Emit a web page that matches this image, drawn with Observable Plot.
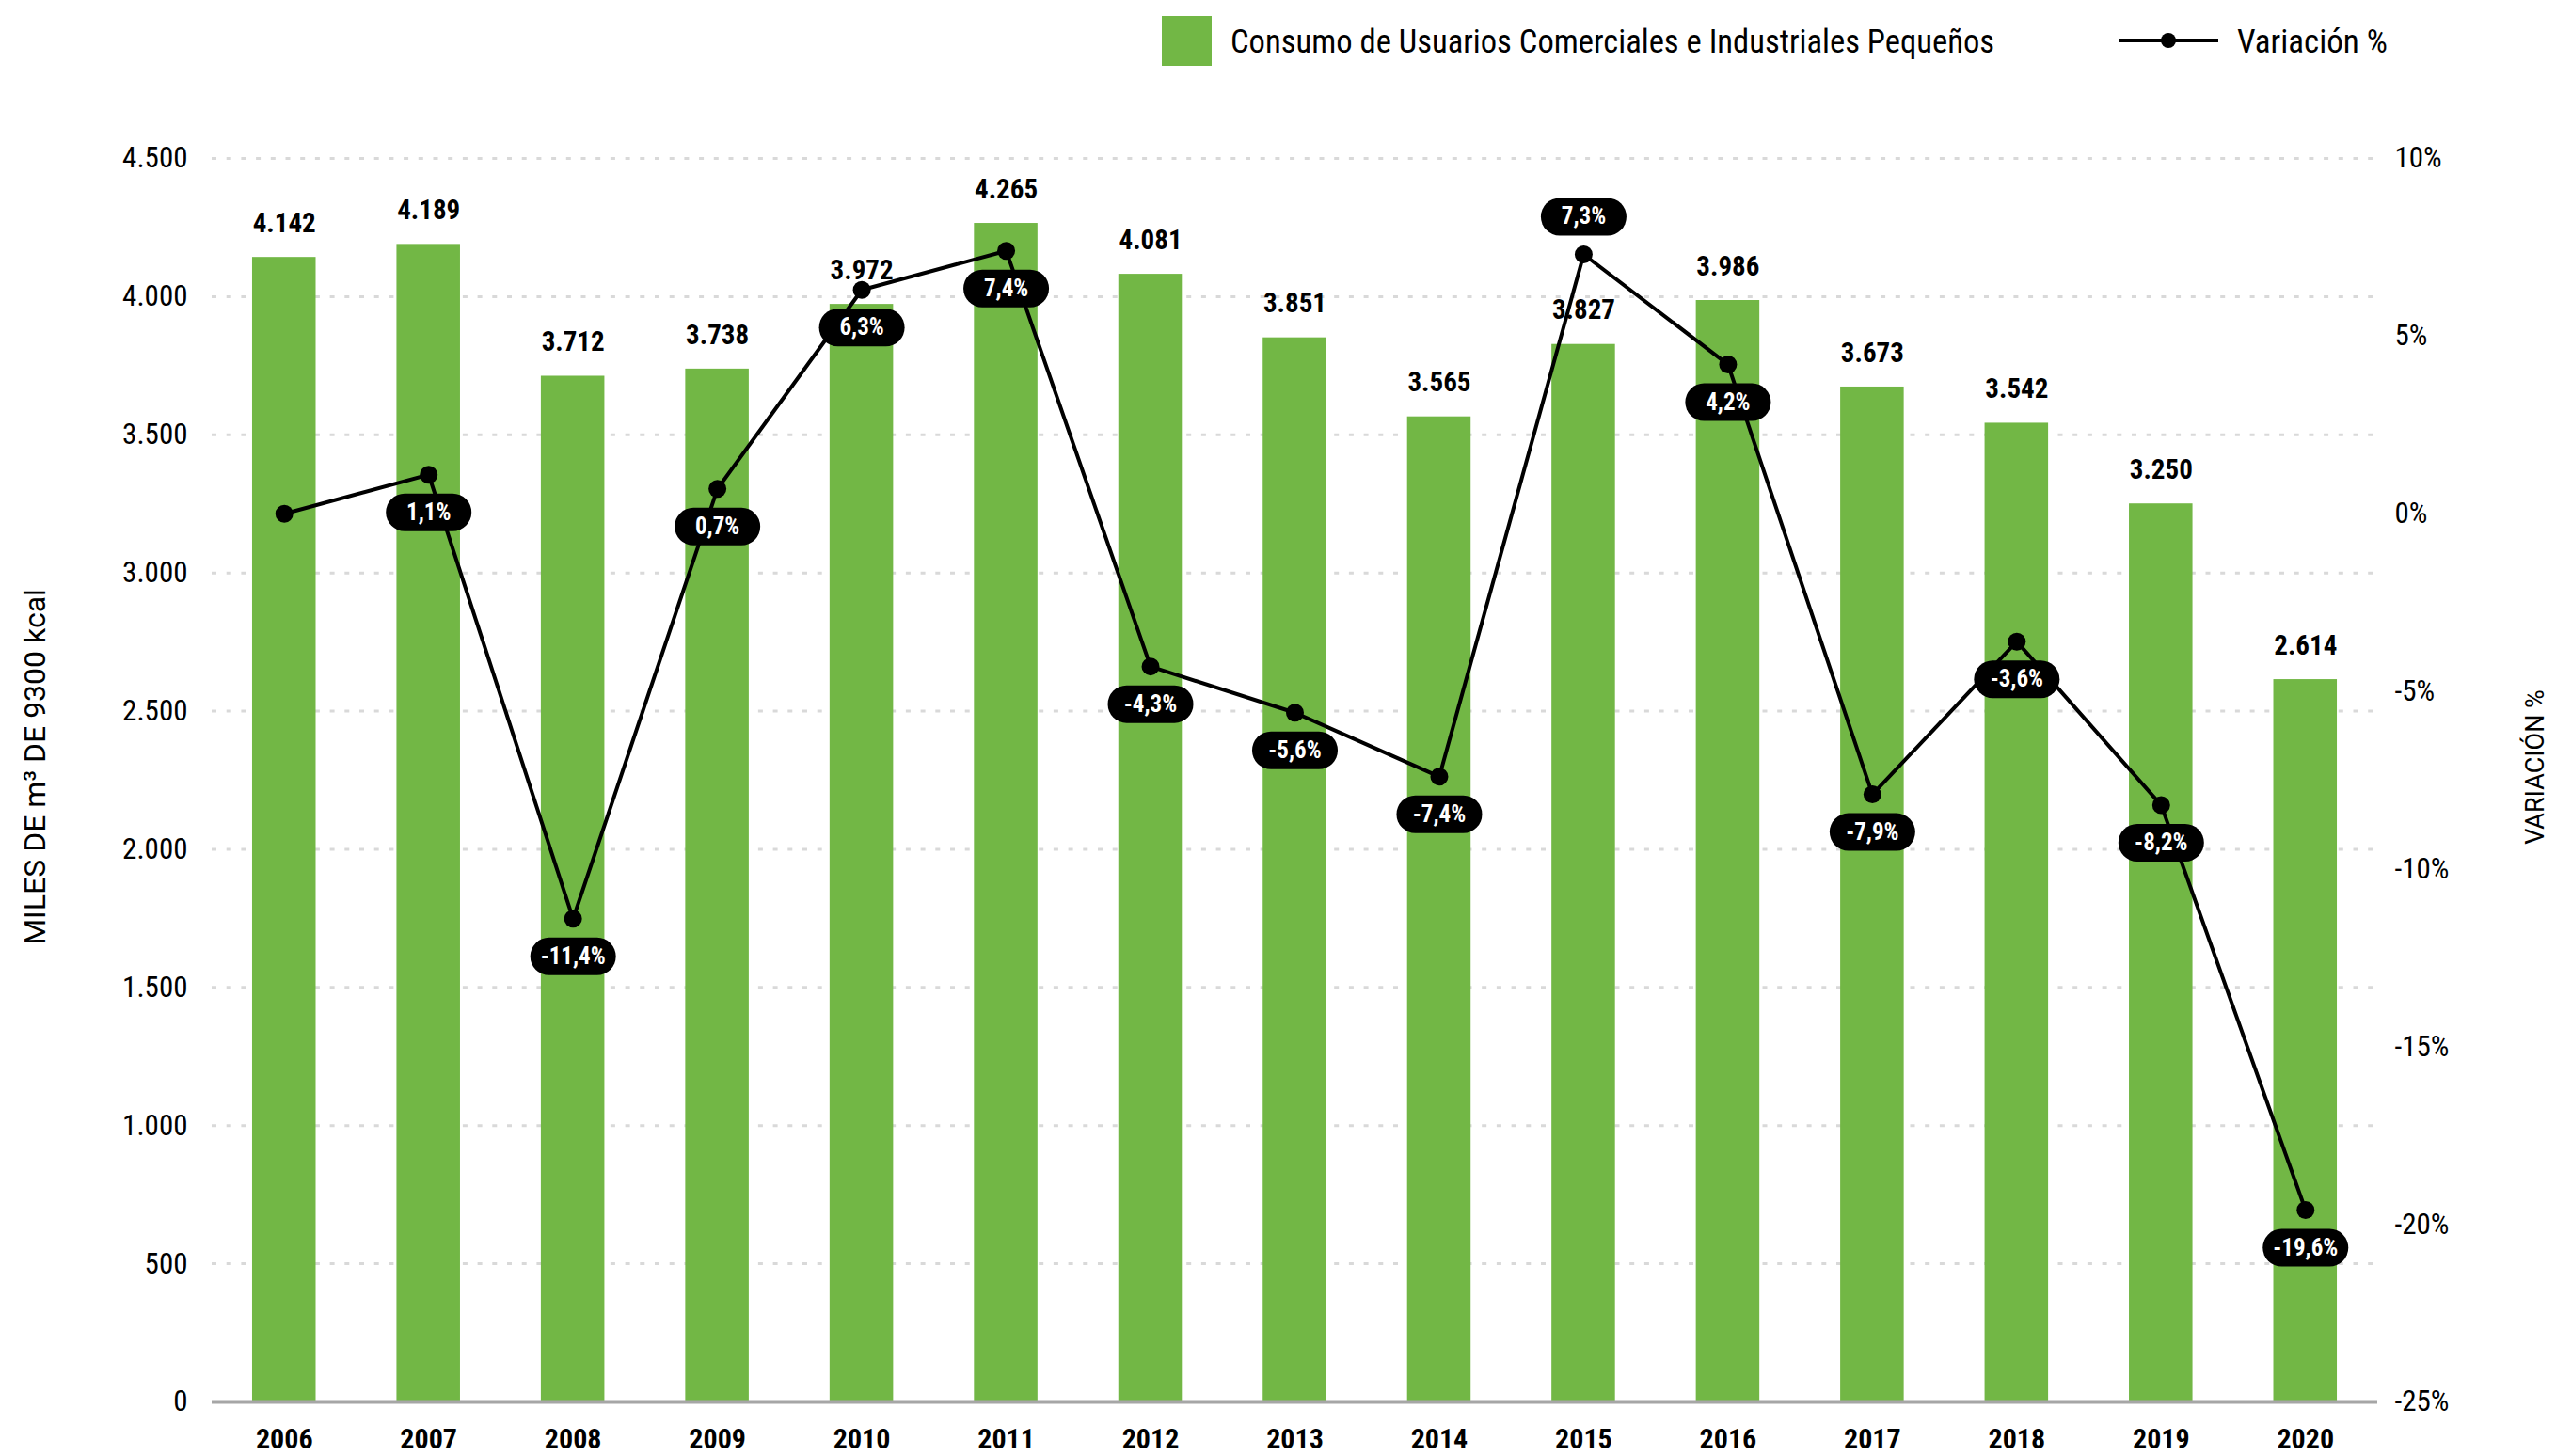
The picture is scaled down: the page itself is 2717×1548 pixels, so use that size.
<!DOCTYPE html>
<html>
<head>
<meta charset="utf-8">
<script src="https://cdn.jsdelivr.net/npm/d3@7"></script>
<script src="https://cdn.jsdelivr.net/npm/@observablehq/plot@0.6"></script>
<style>
  html, body { margin: 0; padding: 0; background: #fff; overflow: hidden; }
  body { width: 2717px; height: 1548px; position: relative; font-family: Roboto, sans-serif; }
  #legend { position: relative; height: 90px; width: 2717px; }
  .cond { font-family: "Roboto Condensed", Roboto, sans-serif; font-stretch: 75%; }
  #chart svg { font-stretch: 75%; }
</style>
</head>
<body>
<div id="legend"></div>
<div id="chart"></div>
<script>
// ---- data ----
const years = ["2006","2007","2008","2009","2010","2011","2012","2013","2014","2015","2016","2017","2018","2019","2020"];
const consumo = [4142, 4189, 3712, 3738, 3972, 4265, 4081, 3851, 3565, 3827, 3986, 3673, 3542, 3250, 2614];
const variacion = [0, 1.1, -11.4, 0.7, 6.3, 7.4, -4.3, -5.6, -7.4, 7.3, 4.2, -7.9, -3.6, -8.2, -19.6];
const leftTicks = [0, 500, 1000, 1500, 2000, 2500, 3000, 3500, 4000, 4500];
const rightTicks = [-25, -20, -15, -10, -5, 0, 5, 10];
const labelsAbove = ["2015"];
const seriesNames = ["Consumo de Usuarios Comerciales e Industriales Pequeños", "Variación %"];
const axisTitles = ["MILES DE m³ DE 9300 kcal", "VARIACIÓN %"];

const GREEN = "#72b745";
const leftMax = 4500, rMin = -25, rMax = 10;
const toLeft = v => (v - rMin) / (rMax - rMin) * leftMax;
const fromLeft = y => y / leftMax * (rMax - rMin) + rMin;

const loc = d3.formatLocale({decimal: ",", thousands: ".", grouping: [3], currency: ["", ""]});
const fmtInt = loc.format(",d");
const fmtPct = v => v.toFixed(1).replace(".", ",") + "%";

const rows = years.map((y, i) => ({year: y, consumo: consumo[i], variacion: variacion[i], vy: toLeft(variacion[i])}));
const labeled = rows.filter(d => d.variacion !== 0);
const above = labeled.filter(d => labelsAbove.includes(d.year));
const below = labeled.filter(d => !labelsAbove.includes(d.year));

// pill symbol (fixed size rounded rectangle)
const pill = {
  draw(ctx) {
    const hw = 25.5, r = 20;
    ctx.moveTo(-hw, -r);
    ctx.lineTo(hw, -r);
    ctx.arc(hw, 0, r, -Math.PI / 2, Math.PI / 2);
    ctx.lineTo(-hw, r);
    ctx.arc(-hw, 0, r, Math.PI / 2, 3 * Math.PI / 2);
    ctx.closePath();
  }
};

const chart = Plot.plot({
  width: 2717,
  height: 1458,
  marginTop: 78,
  marginBottom: 58,
  marginLeft: 225,
  marginRight: 190,
  style: {fontFamily: "Roboto, sans-serif", color: "#000", background: "#fff"},
  x: {type: "band", domain: years, paddingInner: 0.56, paddingOuter: 0.28, round: false, axis: null},
  y: {domain: [0, leftMax], axis: null},
  marks: [
    Plot.ruleY(leftTicks.filter(t => t > 0), {stroke: "#d9d9d9", strokeWidth: 3, strokeDasharray: "5,10.7"}),
    Plot.barY(rows, {x: "year", y: "consumo", fill: GREEN}),
    Plot.ruleY([0], {stroke: "#a6a6a6", strokeWidth: 4}),
    Plot.text(rows, {x: "year", y: "consumo", text: d => fmtInt(d.consumo), dy: -36, fontSize: 29, fontWeight: "bold", fill: "#000"}),
    Plot.line(rows, {x: "year", y: "vy", stroke: "#000", strokeWidth: 4}),
    Plot.dot(rows, {x: "year", y: "vy", r: 9.5, fill: "#000", stroke: null}),
    Plot.dot(below, {x: "year", y: "vy", symbol: pill, r: 10, fill: "#000", stroke: null, dy: 40}),
    Plot.dot(above, {x: "year", y: "vy", symbol: pill, r: 10, fill: "#000", stroke: null, dy: -40}),
    Plot.text(below, {x: "year", y: "vy", text: d => fmtPct(d.variacion), dy: 40, fill: "#fff", fontWeight: "bold", fontSize: 25}),
    Plot.text(above, {x: "year", y: "vy", text: d => fmtPct(d.variacion), dy: -40, fill: "#fff", fontWeight: "bold", fontSize: 25}),
    Plot.axisX({tickSize: 0, tickPadding: 28, fontSize: 30, fontWeight: "bold", label: null}),
    Plot.axisY(leftTicks, {anchor: "left", tickSize: 0, tickPadding: 26, fontSize: 31, tickFormat: fmtInt, label: null}),
    Plot.axisY(rightTicks.map(toLeft), {anchor: "right", tickSize: 0, tickPadding: 18, fontSize: 31, tickFormat: v => Math.round(fromLeft(v)) + "%", label: null}),
    Plot.text([axisTitles[0]], {frameAnchor: "left", textAnchor: "middle", dx: -188, dy: -14, rotate: -90, fontSize: 32}),
    Plot.text([axisTitles[1]], {frameAnchor: "right", textAnchor: "middle", dx: 168, dy: -14, rotate: -90, fontSize: 27})
  ]
});
document.getElementById("chart").appendChild(chart);
// axis titles use the regular (non-condensed) width
chart.querySelectorAll("text").forEach(t => {
  if (axisTitles.includes(t.textContent)) t.style.fontStretch = "100%";
});

// ---- legend ----
const lg = document.getElementById("legend");
lg.innerHTML = `
  <div style="position:absolute;left:1235px;top:17px;width:53px;height:53px;background:${GREEN}"></div>
  <div class="cond" style="position:absolute;left:1308px;top:44px;transform:translateY(-50%);font-size:34.6px;color:#000;white-space:nowrap">${seriesNames[0]}</div>
  <svg style="position:absolute;left:2250px;top:33px" width="110" height="20">
    <line x1="2" y1="10" x2="108" y2="10" stroke="#000" stroke-width="4"/>
    <circle cx="55" cy="10" r="8" fill="#000"/>
  </svg>
  <div class="cond" style="position:absolute;left:2378px;top:44px;transform:translateY(-50%);font-size:35px;color:#000;white-space:nowrap">${seriesNames[1]}</div>
`;
</script>
</body>
</html>
